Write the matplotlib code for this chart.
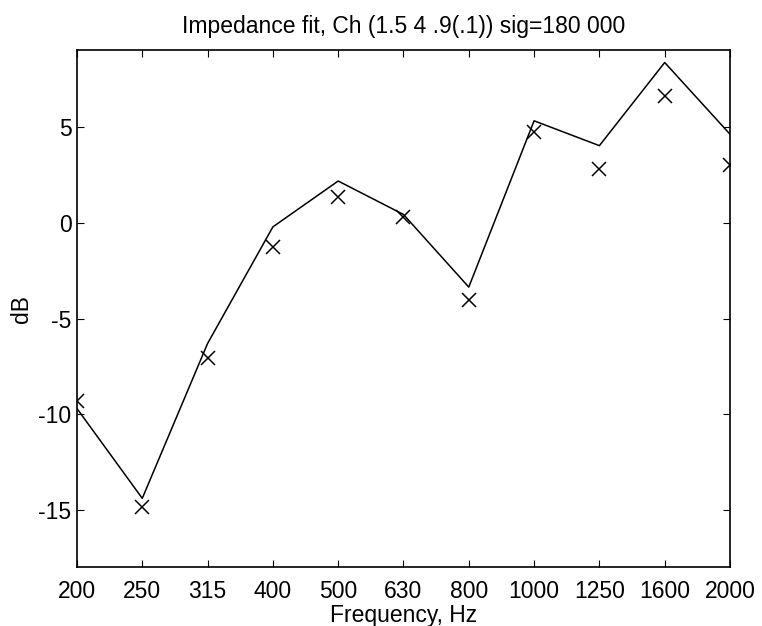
import numpy as np
import matplotlib.pyplot as plt

plt.rcParams['font.family'] = ['Liberation Sans', 'DejaVu Sans']
plt.rcParams['axes.unicode_minus'] = False

freqs = ['200', '250', '315', '400', '500', '630', '800', '1000', '1250', '1600', '2000']
fit_db = [-9.7, -14.4, -6.3, -0.2, 2.2, 0.45, -3.35, 5.35, 4.05, 8.4, 4.65]
meas_db = [-9.3, -14.85, -7.05, -1.25, 1.35, 0.3, -4.05, 4.75, 2.85, 6.65, 3.05]

x = np.arange(len(freqs))

fig = plt.figure(figsize=(7.62, 6.26), dpi=100)
ax = fig.add_axes([0.101, 0.094, 0.857, 0.826])

ax.plot(x, fit_db, color='black', linewidth=1.1)
ax.plot(x, meas_db, linestyle='none', marker='x', color='black',
        markersize=10, markeredgewidth=1.1)

ax.set_xlim(0, len(freqs) - 1)
ax.set_ylim(-18, 9.05)
ax.set_xticks(x)
ax.set_xticklabels(freqs)
ax.set_yticks([-15, -10, -5, 0, 5])
ax.tick_params(direction='in', top=True, right=True, labelsize=16.5, length=5)
ax.tick_params(axis='x', pad=9)
ax.tick_params(axis='y', pad=4)
for s in ax.spines.values():
    s.set_linewidth(1.2)

ax.set_xlabel('Frequency, Hz', fontsize=16.5, labelpad=1)
ax.set_ylabel('dB', fontsize=16.5, labelpad=4)
ax.set_title('Impedance fit, Ch (1.5 4 .9(.1)) sig=180 000', fontsize=16.5, pad=12)

fig.savefig('out.png', dpi=100)
